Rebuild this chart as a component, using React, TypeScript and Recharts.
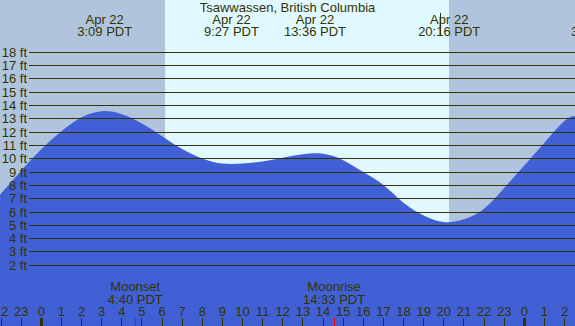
import { ComposedChart, Area, XAxis, YAxis, ReferenceArea, ReferenceLine } from "recharts";

const W = 575;
const H = 326;
const INK = "#333300";
const FONT = "'Liberation Sans', Arial, sans-serif";

// hours since midnight Apr 22 (PDT)
const tideHours = [-2.05, -1, 0, 1, 2, 3, 4, 5, 6, 7, 8, 9, 10, 11, 12, 13, 14, 15, 16, 17, 18, 19, 20, 21, 22, 23, 24, 25, 26, 26.52];
const tideFeet = [7.3, 9.1, 10.72, 12.07, 13.12, 13.58, 13.35, 12.65, 11.7, 10.74, 10.03, 9.64, 9.64, 9.8, 10.08, 10.34, 10.38, 9.9, 9.0, 8.03, 6.7, 5.75, 5.25, 5.45, 6.25, 7.8, 9.5, 11.2, 12.85, 13.2];

const hourTicks = [-2, -1, 0, 1, 2, 3, 4, 5, 6, 7, 8, 9, 10, 11, 12, 13, 14, 15, 16, 17, 18, 19, 20, 21, 22, 23, 24, 25, 26];
const feetTicks = [2, 3, 4, 5, 6, 7, 8, 9, 10, 11, 12, 13, 14, 15, 16, 17, 18];

const eventHours = [3.15, 9.45, 13.6, 20.27, 27.69];
const eventDates = ["Apr 22", "Apr 22", "Apr 22", "Apr 22", "Apr 23"];
const eventTimes = ["3:09 PDT", "9:27 PDT", "13:36 PDT", "20:16 PDT", "3:41 PDT"];

const moonHours = [4.67, 14.55];
const moonNames = ["Moonset", "Moonrise"];
const moonTimes = ["4:40 PDT", "14:33 PDT"];

const sunrise = 6.15;
const sunset = 20.25;

const X_DOMAIN = [-2.052, 26.52];
const Y_DOMAIN = [-2.56, 21.93];

const data = tideHours.map((h, i) => ({ h, ft: tideFeet[i] }));

const txt = { fontFamily: FONT, fontSize: 13, fill: INK } as const;

export default function App() {
  return (
    <div style={{ position: "absolute", left: 0, top: 0, width: W, height: H, background: "#b0c4de" }}>
      <ComposedChart width={W} height={H} data={data} margin={{ top: 0, right: 0, bottom: 0, left: 0 }}>
        <XAxis dataKey="h" type="number" domain={X_DOMAIN} allowDataOverflow hide />
        <YAxis type="number" domain={Y_DOMAIN} allowDataOverflow hide />
        <ReferenceArea x1={sunrise} x2={sunset} fill="#e0f8ff" fillOpacity={1} stroke="none" shapeRendering="crispEdges" />
        <Area
          type="natural"
          dataKey="ft"
          stroke="none"
          fill="#4160d6"
          fillOpacity={1}
          baseValue="dataMin"
          dot={false}
          activeDot={false}
          isAnimationActive={false}
        />
        {feetTicks.map((f) => (
          <ReferenceLine
            key={"g" + f}
            segment={[{ x: -0.61, y: f }, { x: X_DOMAIN[1], y: f }]}
            stroke={INK}
            strokeWidth={1}
            shapeRendering="crispEdges"
            label={(p: any) => (
              <text x={27} y={p.viewBox.y + 4.5} textAnchor="end" {...txt}>
                {f} ft
              </text>
            )}
          />
        ))}
        {hourTicks.map((h) => {
          const label = ((h % 24) + 24) % 24;
          const major = label === 0;
          return (
            <ReferenceLine
              key={"h" + h}
              x={h}
              stroke="none"
              label={(p: any) => (
                <g>
                  <rect
                    x={Math.round(p.viewBox.x - (major ? 1.5 : 0.5))}
                    y={318}
                    width={major ? 3 : 1}
                    height={8}
                    fill={INK}
                    shapeRendering="crispEdges"
                  />
                  <text x={p.viewBox.x} y={316} textAnchor="middle" {...txt}>
                    {label}
                  </text>
                </g>
              )}
            />
          );
        })}
        <ReferenceLine
          segment={[{ x: 19.85, y: 19.3 }, { x: 19.85, y: 20.95 }]}
          stroke={INK}
          strokeWidth={1}
          shapeRendering="crispEdges"
          ifOverflow="visible"
        />
        {eventHours.map((h, i) => (
          <ReferenceLine
            key={"e" + i}
            x={h}
            stroke="none"
            ifOverflow="visible"
            label={(p: any) => (
              <g>
                <text x={p.viewBox.x} y={24.3} textAnchor="middle" {...txt}>
                  {eventDates[i]}
                </text>
                <text x={p.viewBox.x} y={36} textAnchor="middle" {...txt}>
                  {eventTimes[i]}
                </text>
              </g>
            )}
          />
        ))}
        {moonHours.map((h, i) => (
          <ReferenceLine
            key={"m" + i}
            x={h}
            stroke="none"
            label={(p: any) => (
              <g>
                <rect
                  x={Math.round(p.viewBox.x - 0.5)}
                  y={318}
                  width={1}
                  height={8}
                  fill="#ff0000"
                  shapeRendering="crispEdges"
                />
                <text x={p.viewBox.x} y={291.3} textAnchor="middle" {...txt}>
                  {moonNames[i]}
                </text>
                <text x={p.viewBox.x} y={303.5} textAnchor="middle" {...txt}>
                  {moonTimes[i]}
                </text>
              </g>
            )}
          />
        ))}
        <ReferenceLine
          x={(X_DOMAIN[0] + X_DOMAIN[1]) / 2}
          stroke="none"
          label={() => (
            <text x={W / 2} y={12} textAnchor="middle" {...txt}>
              Tsawwassen, British Columbia
            </text>
          )}
        />
      </ComposedChart>
    </div>
  );
}
